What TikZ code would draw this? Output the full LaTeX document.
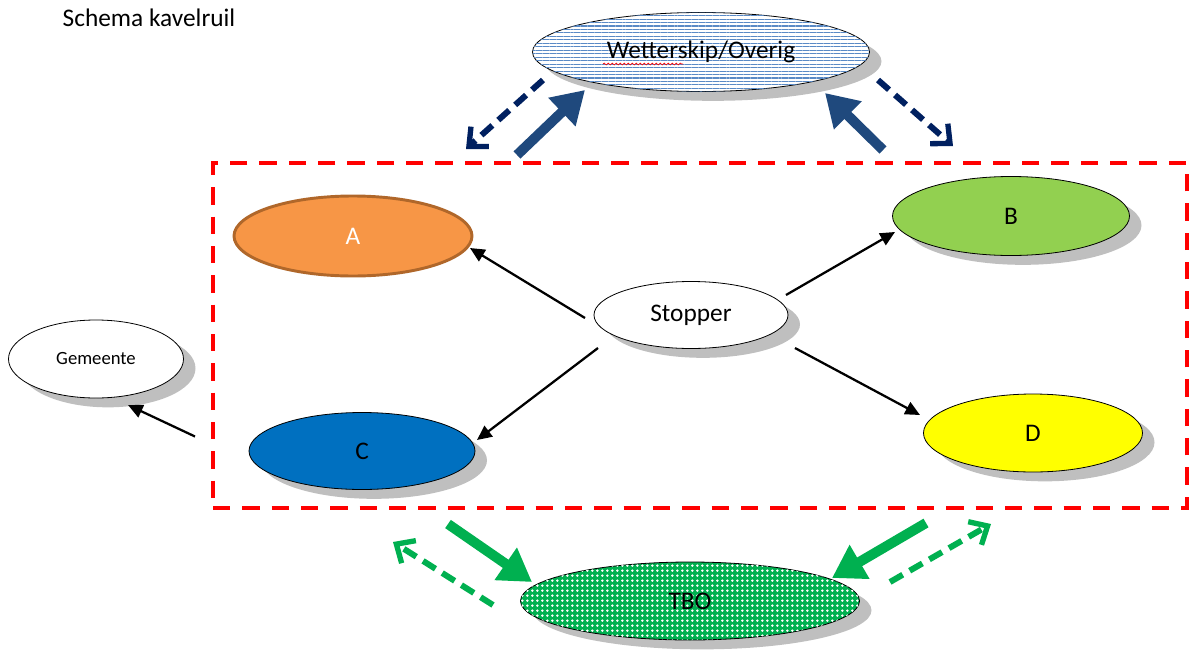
\documentclass[tikz,border=0pt]{standalone}
\usepackage{fontspec}
\setmainfont{Carlito}
\usetikzlibrary{shapes.geometric,shadows,patterns.meta,arrows.meta,decorations.pathmorphing}

\definecolor{oranje}{HTML}{F79646}
\definecolor{oranjerand}{HTML}{B0672A}
\definecolor{groen}{HTML}{92D050}
\definecolor{blauw}{HTML}{0070C0}
\definecolor{geel}{HTML}{FFFF00}
\definecolor{navy}{HTML}{002060}
\definecolor{donkerblauw}{HTML}{1F497D}
\definecolor{tbogroen}{HTML}{00B050}
\definecolor{streep}{HTML}{5A8AC6}
\definecolor{schaduw}{HTML}{BFBFBF}

\begin{document}
\begin{tikzpicture}[x=0.75pt,y=-0.75pt,
  oval/.style={ellipse,draw=black,line width=0.6pt,inner sep=0pt,
    font=\fontsize{19}{22}\selectfont},
  schaduw/.style={drop shadow={shadow xshift=9pt,shadow yshift=-7pt,fill=schaduw,opacity=1}},
  pijl/.style={line width=1.7pt,-{Triangle[length=11pt,width=10pt]}},
  dikpijl/.style={line width=7.5pt,-{Triangle[length=24pt,width=28pt]}},
  streeppijl/.style={line width=4.5pt,dash pattern=on 11pt off 6pt,
    -{Straight Barb[length=11pt,width=20pt,line width=4pt]}}]
\def\px{0.75pt}
\useasboundingbox (0,0) rectangle (1189,650);

\node[anchor=west,font=\fontsize{19}{22}\selectfont] (titel) at (58,18) {Schema kavelruil};

% kavelruil gebied
\node[draw=red,line width=3pt,dash pattern=on 13pt off 9pt,inner sep=0pt,
  minimum width=974*\px,minimum height=345*\px] (kavel) at (700,335.5) {};

% ovalen
\node[oval,schaduw,fill=white,postaction={pattern={Lines[distance=2.6pt,line width=0.8pt]},pattern color=streep},
  minimum width=337*\px,minimum height=79*\px] (wet) at (701,52) {Wetterskip/Overig};
\draw[red,line width=0.5pt,decorate,decoration={snake,amplitude=0.7pt,segment length=3pt}]
  ([shift={(-98,12)}]wet.center) -- ([shift={(-18,12)}]wet.center);
\node[oval,draw=oranjerand,line width=2.2pt,fill=oranje,text=white,
  minimum width=238*\px,minimum height=80*\px] (a) at (353,236) {A};
\node[oval,schaduw,fill=groen,minimum width=237*\px,minimum height=79*\px] (b) at (1011,216) {B};
\node[oval,schaduw,fill=white,minimum width=194*\px,minimum height=67*\px] (stopper) at (691,315) {Stopper};
\node[oval,schaduw,fill=blauw,minimum width=226*\px,minimum height=77*\px] (c) at (362,451) {C};
\node[oval,schaduw,fill=geel,minimum width=219*\px,minimum height=78*\px] (d) at (1033,433) {D};
\node[oval,schaduw,fill=white,font=\fontsize{14}{16}\selectfont,
  minimum width=175*\px,minimum height=78*\px] (gemeente) at (96,359) {Gemeente};
\node[oval,schaduw,fill=tbogroen,postaction={pattern={Dots[distance=4pt,radius=1.1pt]},pattern color=white},
  minimum width=339*\px,minimum height=78*\px] (tbo) at (690,601) {TBO};

% stopper naar de kavels
\foreach \dx/\dy/\doel/\ex/\ey in {-106/3/a/117/12, 95/-20/b/-116/16, -93/33/c/115/-11, 104/33/d/-113/-18}
  \draw[pijl] ([shift={(\dx,\dy)}]stopper.center) -- ([shift={(\ex,\ey)}]\doel.center);
\draw[pijl] ([shift={(-16,101)}]kavel.west) -- ([shift={(32,46)}]gemeente.center);

% Wetterskip
\draw[streeppijl,navy] ([shift={(-158,28)}]wet.center) -- ([shift={(255,-12)}]kavel.north west);
\draw[streeppijl,navy] ([shift={(177,28)}]wet.center) -- ([shift={(742,-15)}]kavel.north west);
\draw[dikpijl,donkerblauw] ([shift={(306,-6)}]kavel.north west) -- ([shift={(-116,38)}]wet.center);
\draw[dikpijl,donkerblauw] ([shift={(672,-11)}]kavel.north west) -- ([shift={(124,41)}]wet.center);

% TBO
\draw[dikpijl,tbogroen] ([shift={(237,14)}]kavel.south west) -- ([shift={(-158,-19)}]tbo.center);
\draw[dikpijl,tbogroen] ([shift={(715,13)}]kavel.south west) -- ([shift={(142,-23)}]tbo.center);
\draw[streeppijl,tbogroen] ([shift={(-197,4)}]tbo.center) -- ([shift={(182,32)}]kavel.south west);
\draw[streeppijl,tbogroen] ([shift={(200,-19)}]tbo.center) -- ([shift={(780,14)}]kavel.south west);
\end{tikzpicture}
\end{document}
